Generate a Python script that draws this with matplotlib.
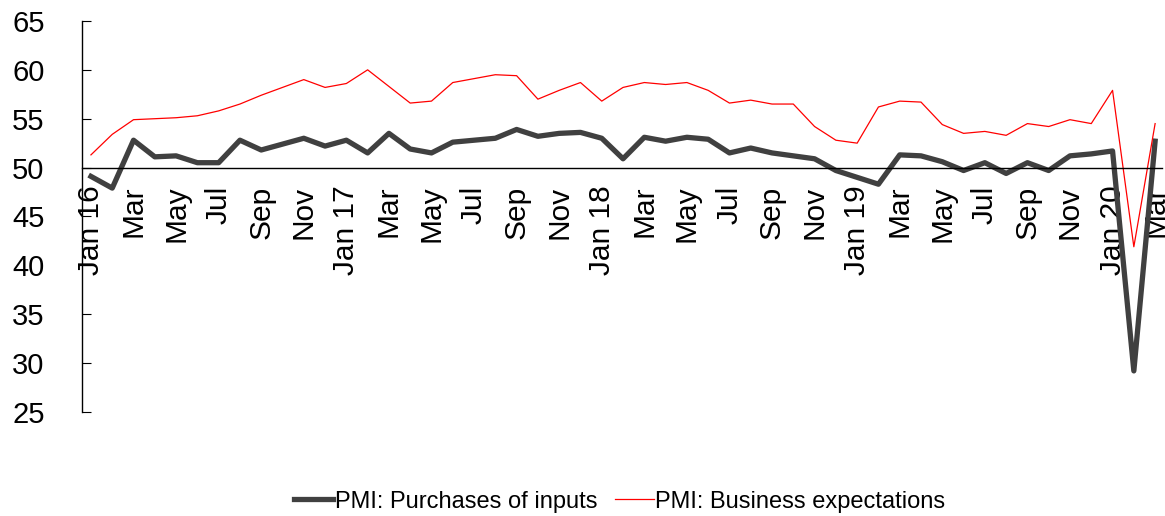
import matplotlib
matplotlib.use("Agg")
import matplotlib.pyplot as plt
import numpy as np

plt.rcParams['font.family'] = ['Liberation Sans', 'DejaVu Sans']

# monthly, Jan 2016 .. Mar 2020
months = ['Jan', 'Feb', 'Mar', 'Apr', 'May', 'Jun',
          'Jul', 'Aug', 'Sep', 'Oct', 'Nov', 'Dec']
years = [16, 17, 18, 19, 20]

purchases = [49.1, 47.9, 52.8, 51.1, 51.2, 50.5, 50.5, 52.8, 51.8, 52.4, 53.0, 52.2,
             52.8, 51.5, 53.5, 51.9, 51.5, 52.6, 52.8, 53.0, 53.9, 53.2, 53.5, 53.6,
             53.0, 50.9, 53.1, 52.7, 53.1, 52.9, 51.5, 52.0, 51.5, 51.2, 50.9, 49.7,
             49.0, 48.3, 51.3, 51.2, 50.6, 49.7, 50.5, 49.4, 50.5, 49.7, 51.2, 51.4,
             51.7, 29.2, 52.7]
expectations = [51.3, 53.4, 54.9, 55.0, 55.1, 55.3, 55.8, 56.5, 57.4, 58.2, 59.0, 58.2,
                58.6, 60.0, 58.3, 56.6, 56.8, 58.7, 59.1, 59.5, 59.4, 57.0, 57.9, 58.7,
                56.8, 58.2, 58.7, 58.5, 58.7, 57.9, 56.6, 56.9, 56.5, 56.5, 54.2, 52.8,
                52.5, 56.2, 56.8, 56.7, 54.4, 53.5, 53.7, 53.3, 54.5, 54.2, 54.9, 54.5,
                57.9, 41.9, 54.5]

labels = []
for y in years:
    for m in months:
        labels.append(m + ' ' + str(y) if m == 'Jan' else m)
labels = labels[:len(purchases)]
x = np.arange(len(purchases))

fig = plt.figure(figsize=(11.65, 5.16), dpi=100)
ax = fig.add_axes([0.0704, 0.2016, 0.9266, 0.7578])

ax.plot(x, purchases, color='#404040', lw=3.8, label='PMI: Purchases of inputs')
ax.plot(x, expectations, color='#ff0000', lw=0.9, label='PMI: Business expectations')

ax.set_xlim(-0.42, 50.3)
ax.set_ylim(25, 65)
ax.set_yticks(range(25, 66, 5))

ax.spines['top'].set_visible(False)
ax.spines['right'].set_visible(False)
ax.spines['bottom'].set_position(('data', 50))
ax.spines['bottom'].set_linewidth(1.0)
ax.spines['left'].set_linewidth(1.0)

ax.set_xticks(x[::2])
ax.set_xticklabels(labels[::2], rotation=90, va='top', ha='center')
ax.tick_params(axis='x', length=0, pad=13, labelsize=21.5)
ax.tick_params(axis='y', direction='in', length=6.5, pad=27, labelsize=21)

fig.legend(loc='center', bbox_to_anchor=(0.532, 0.028), ncol=2, frameon=False,
           fontsize=17, handlelength=1.65, columnspacing=0.75, handletextpad=0.05,
           borderpad=0, borderaxespad=0)

fig.savefig('out.png', dpi=100)
